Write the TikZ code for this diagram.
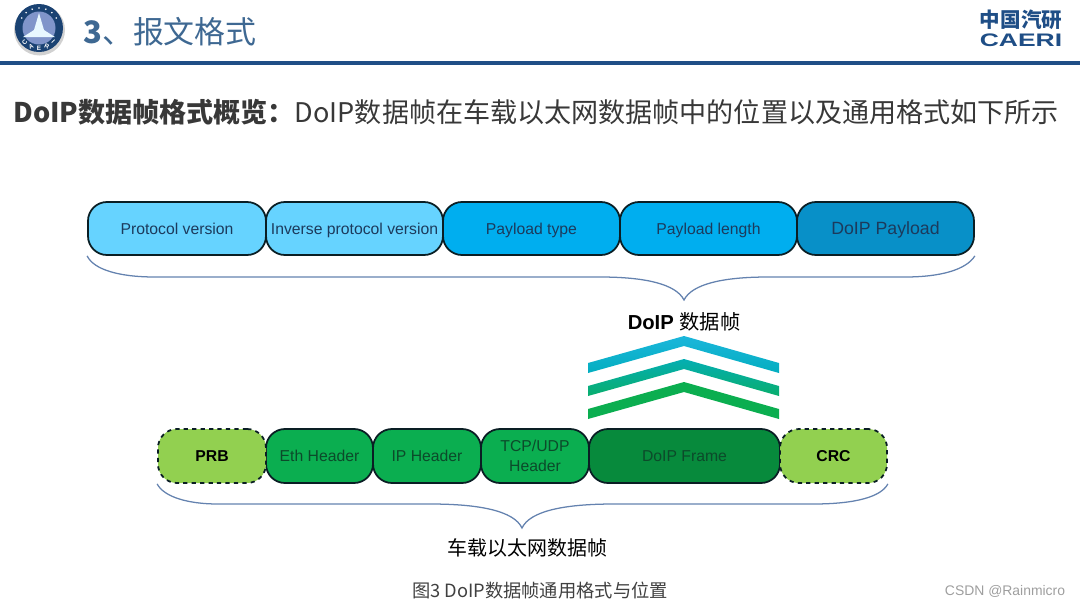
\documentclass[tikz,border=0pt]{standalone}
\usepackage{fontspec}
\usepackage{graphicx}
\setmainfont{Liberation Sans}
\newfontfamily\cjk{Noto Sans CJK SC}
\usetikzlibrary{math}
\definecolor{qnavy}{RGB}{31,78,134}
\definecolor{qtitle}{RGB}{62,104,146}
\definecolor{qbrace}{RGB}{100,130,175}
\definecolor{qedge}{RGB}{10,30,36}
\definecolor{qink}{RGB}{28,58,92}
\definecolor{qleaf}{RGB}{12,74,42}
\definecolor{qsky}{RGB}{102,211,255}
\definecolor{qblue}{RGB}{0,174,239}
\definecolor{qdeep}{RGB}{8,144,200}
\definecolor{qgreen}{RGB}{11,174,80}
\definecolor{qforest}{RGB}{7,138,60}
\definecolor{qlime}{RGB}{146,208,80}
\tikzset{
  cell/.style={draw=qedge,line width=1.25pt,rounded corners=13.5pt,inner sep=0pt,align=center,
    minimum height=#1*0.025cm,font=\fontsize{11.2}{14}\selectfont},
  oneline/.style={text height=8pt,text depth=0pt},
  brace/.style={draw=qbrace,line width=0.9pt},
}

\begin{document}
\begin{tikzpicture}[x=0.025cm,y=-0.025cm]
\useasboundingbox (0,0) rectangle (1080,607);
\tikzmath{
\yt=228.5;
\yb=456;
\ch=23;
}

%title
\fill[qnavy] (0,60.5) rectangle (1080,64.5);
\node[text=qtitle,anchor=west,inner sep=0pt,font=\fontsize{22}{26}\selectfont\cjk] (title) at (83,32) {{\bfseries 3}、报文格式};

%logo
\fill[black!18] (39.5,30) circle(25.5);
\fill[qnavy!85!black] (39,28) circle(24);
\fill[blue!20!qnavy!55] (39,28) circle(16.5);
\fill[white!85!qsky] (39,13) -- (44,30) -- (55,37) -- (23,37) -- (34,30) -- cycle;
\foreach \a in {30,50,...,150}{
  \fill[white] (39,28) ++(-\a:20) circle(0.9);
}
\foreach \i/\a/\letter in {0/136/C,1/113/A,2/90/E,3/67/R,4/44/I}{
  \node[text=white,inner sep=0pt,rotate=\a-90,font=\fontsize{4.5}{5}\bfseries\selectfont] (seal\i) at ([shift={(\a:20)}]39,28) {\letter};
}
\node[text=qnavy,font=\fontsize{14.6}{17}\selectfont\cjk\bfseries] (brandcn) at (1021,20) {中国汽研};
\node[text=qnavy,font=\fontsize{12.9}{15}\selectfont\bfseries] (branden) at (1021,40) {\scalebox{1.46}[1]{CAERI}};

%headline
\node[anchor=west,inner sep=0pt,text=black!78,font=\fontsize{19.25}{23}\selectfont\cjk] (headline) at (13,112) {{\bfseries DoIP数据帧格式概览：}DoIP数据帧在车载以太网数据帧中的位置以及通用格式如下所示};

%upper row
\foreach \nm/\xa/\xb/\col/\txt in {ver/88/266/qsky/Protocol version,inv/266/443/qsky/Inverse protocol version,typ/443/620/qblue/Payload type,len/620/797/qblue/Payload length}{
  \node[cell=53,oneline,fill=\col,text=qink,minimum width={(\xb-\xa)*0.025cm}] (\nm) at ({(\xa+\xb)/2},\yt) {\txt};
}
\node[cell=53,oneline,fill=qdeep,text=qink,minimum width={177*0.025cm},font=\fontsize{12.6}{15}\selectfont] (pay) at (885.5,\yt) {DoIP Payload};

%brace above
\coordinate (upperapex) at (684,300);
\path[brace] (ver.south west) .. controls (94,270) and (120,277) .. (155,277) -- (600,277) .. controls (645,277) and (676,284) .. (upperapex) .. controls (692,284) and (723,277) .. (768,277) -- (905,277) .. controls (940,277) and (966,270) .. (pay.south east);
\node[font=\fontsize{14.4}{17}\selectfont\bfseries] (framelabel) at (684,322) {DoIP {\cjk\mdseries 数据帧}};

%chevrons
\foreach \i/\ca/\cb in {0/qblue!85!qgreen!90!white/qblue!70!qgreen,1/qblue!62!qgreen/qblue!18!qgreen,2/qgreen/qgreen}{
  \tikzmath{\s=\i*\ch;}
  \path[top color=\ca,bottom color=\cb] (588,363+\s) -- (684,336+\s) -- (779,363+\s) -- (779,373+\s) -- (684,346+\s) -- (588,373+\s) -- cycle;
}

%lower row
\foreach \nm/\xa/\xb/\col/\txt in {eth/266/373/qgreen/Eth Header,ip/373/481/qgreen/IP Header,doip/589/780/qforest/DoIP Frame}{
  \node[cell=54,oneline,fill=\col,text=qleaf,minimum width={(\xb-\xa)*0.025cm}] (\nm) at ({(\xa+\xb)/2},\yb) {\txt};
}
\node[cell=54,fill=qgreen,text=qleaf,minimum width={108*0.025cm}] (tcp) at (535,\yb) {TCP/UDP\\Header};
\foreach \nm/\xa/\xb/\txt in {prb/158/266/PRB,crc/780/887/CRC}{
  \node[cell=54,oneline,dashed,fill=qlime,text=black,minimum width={(\xb-\xa)*0.025cm},font=\fontsize{11.2}{14}\selectfont\bfseries] (\nm) at ({(\xa+\xb)/2},\yb) {\txt};
}

%brace below
\coordinate (lowerapex) at (522,528);
\path[brace] (prb.south west) .. controls (164,497) and (188,504) .. (218,504) -- (430,504) .. controls (480,504) and (514,511) .. (lowerapex) .. controls (530,511) and (564,504) .. (614,504) -- (813,504) .. controls (855,504) and (881,497) .. (crc.south east);
\node[font=\fontsize{14.2}{17}\selectfont\cjk] (rowlabel) at (527.5,548) {车载以太网数据帧};

%caption and mark
\node[text=black!75,font=\fontsize{13}{16}\selectfont\cjk] (caption) at (540,591) {图3 DoIP数据帧通用格式与位置};
\node[text=black!38,font=\fontsize{9.9}{12}\selectfont] (mark) at (1005,591) {CSDN @Rainmicro};

\end{tikzpicture}
\end{document}
